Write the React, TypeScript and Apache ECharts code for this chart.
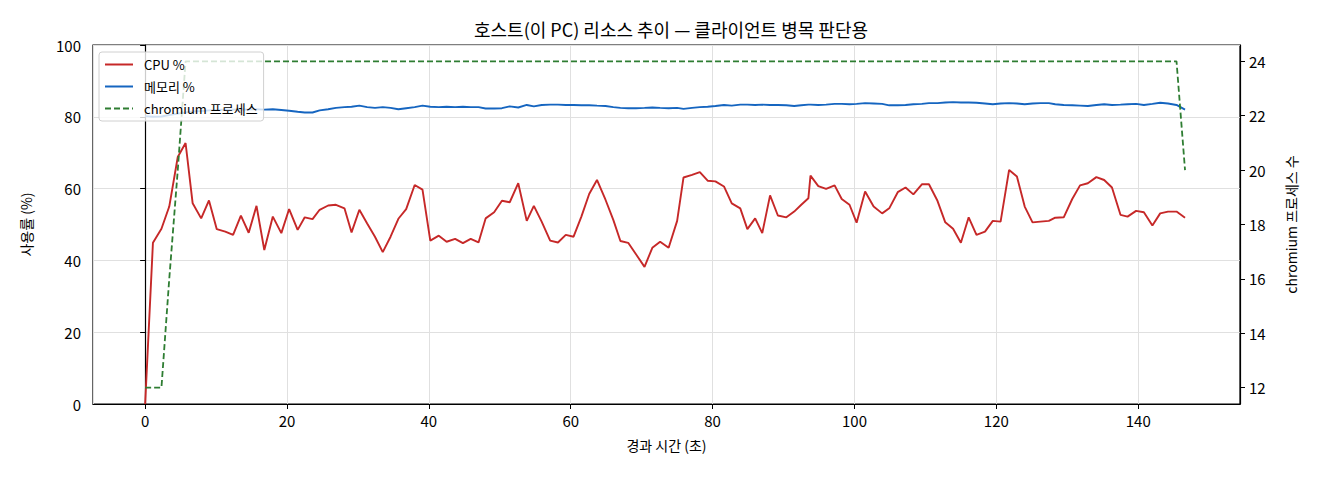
import { useEffect, useRef } from "react";
import * as echarts from "echarts";

// 경과 시간 (초) — 샘플 시각
const times = [
  0.0, 1.1, 2.3, 3.4, 4.6, 5.7, 6.7, 7.9, 9.0, 10.1,
  11.3, 12.4, 13.5, 14.6, 15.7, 16.8, 18.0, 19.2, 20.3, 21.5,
  22.5, 23.6, 24.6, 25.8, 26.9, 28.1, 29.1, 30.2, 31.3, 32.4,
  33.5, 34.6, 35.7, 36.8, 38.0, 39.1, 40.2, 41.4, 42.5, 43.7,
  44.8, 45.9, 47.0, 48.0, 49.2, 50.3, 51.4, 52.6, 53.8, 54.8,
  55.9, 57.1, 58.2, 59.3, 60.4, 61.5, 62.6, 63.7, 64.9, 66.0,
  67.0, 68.1, 69.2, 70.4, 71.5, 72.6, 73.8, 75.0, 75.9, 77.1,
  78.2, 79.3, 80.4, 81.6, 82.7, 83.9, 84.9, 86.0, 87.0, 88.1,
  89.2, 90.4, 91.5, 92.5, 93.5, 93.8, 94.9, 96.0, 97.2, 98.2,
  99.3, 100.3, 101.5, 102.7, 103.9, 104.9, 106.1, 107.2, 108.3, 109.5,
  110.5, 111.7, 112.8, 113.9, 115.0, 116.1, 117.2, 118.4, 119.5, 120.6,
  121.8, 122.9, 124.0, 125.1, 126.2, 127.4, 128.3, 129.5, 130.7, 131.8,
  132.9, 134.1, 135.2, 136.3, 137.5, 138.5, 139.7, 140.8, 142.0, 143.1,
  144.2, 145.4, 146.6,
];

// CPU 사용률 (%)
const cpuPct = [
  0, 44.9, 48.8, 55.0, 68.8, 72.7, 55.9, 51.7, 56.7, 48.7,
  48.0, 47.1, 52.5, 47.7, 55.2, 42.9, 52.2, 47.6, 54.3, 48.5,
  52.0, 51.5, 54.1, 55.3, 55.5, 54.5, 47.8, 54.1, 50.3, 46.6,
  42.3, 46.6, 51.6, 54.3, 61.0, 59.7, 45.5, 46.9, 45.2, 46.0,
  44.8, 46.0, 45.0, 51.7, 53.4, 56.6, 56.2, 61.5, 51.0, 55.2,
  50.8, 45.5, 45.0, 47.1, 46.6, 52.2, 58.5, 62.4, 56.9, 51.3,
  45.4, 44.9, 41.7, 38.2, 43.5, 45.2, 43.5, 51.0, 63.1, 63.8,
  64.6, 62.2, 62.0, 60.6, 55.9, 54.5, 48.7, 51.7, 47.6, 58.1,
  52.5, 52.0, 53.6, 55.5, 57.3, 63.6, 60.7, 59.9, 60.9, 57.1,
  55.5, 50.5, 59.2, 55.0, 53.1, 54.5, 59.0, 60.3, 58.4, 61.2,
  61.2, 56.6, 50.6, 48.8, 44.9, 52.0, 47.1, 48.0, 51.0, 50.8,
  65.2, 63.4, 55.0, 50.6, 50.8, 51.0, 51.9, 52.0, 57.1, 60.9,
  61.5, 63.2, 62.4, 60.3, 52.7, 52.2, 53.8, 53.4, 49.7, 53.1,
  53.6, 53.6, 51.9,
];

// 메모리 사용률 (%)
const memPct = [
  80.2, 80.0, 80.1, 80.5, 80.9, 81.2, 81.5, 81.6, 81.8, 81.9,
  82.0, 82.0, 82.1, 82.0, 82.1, 82.0, 82.1, 81.9, 81.7, 81.4,
  81.2, 81.2, 81.8, 82.1, 82.5, 82.7, 82.8, 83.1, 82.7, 82.5,
  82.7, 82.5, 82.1, 82.4, 82.7, 83.1, 82.8, 82.7, 82.8, 82.7,
  82.8, 82.7, 82.7, 82.3, 82.3, 82.4, 82.9, 82.6, 83.3, 82.9,
  83.3, 83.4, 83.4, 83.3, 83.3, 83.2, 83.2, 83.1, 83.0, 82.7,
  82.5, 82.4, 82.4, 82.5, 82.6, 82.5, 82.4, 82.5, 82.2, 82.5,
  82.7, 82.8, 83.0, 83.3, 83.1, 83.4, 83.4, 83.3, 83.4, 83.3,
  83.3, 83.2, 83.0, 83.2, 83.4, 83.4, 83.3, 83.4, 83.6, 83.6,
  83.5, 83.6, 83.8, 83.7, 83.6, 83.2, 83.2, 83.3, 83.5, 83.6,
  83.8, 83.8, 84.0, 84.1, 84.0, 84.0, 83.9, 83.7, 83.5, 83.7,
  83.8, 83.7, 83.5, 83.7, 83.8, 83.8, 83.5, 83.3, 83.2, 83.1,
  83.0, 83.3, 83.5, 83.3, 83.4, 83.5, 83.6, 83.3, 83.6, 83.9,
  83.7, 83.3, 82.0,
];

// chromium 프로세스 수 — 값이 바뀌는 시점만
const chromiumTimes = [0.0, 2.3, 3.4, 4.6, 5.7, 145.4, 146.6];
const chromiumCounts = [12, 12, 16, 20, 24, 24, 20];

const FONT = "'Noto Sans CJK KR', 'Noto Sans', sans-serif";

export default function App() {
  const chartRef = useRef<HTMLDivElement>(null);

  useEffect(() => {
    if (!chartRef.current) return;
    const chart = echarts.init(chartRef.current, undefined, { renderer: "svg" });
    chart.setOption({
      animation: false,
      textStyle: { fontFamily: FONT, color: "#000" },
      title: {
        text: "호스트(이 PC) 리소스 추이 — 클라이언트 병목 판단용",
        left: 666,
        top: 15,
        textAlign: "center",
        textStyle: { fontSize: 18, fontWeight: "normal", color: "#000", fontFamily: FONT },
      },
      grid: {
        left: 93,
        right: 80,
        top: 45,
        bottom: 76,
        show: true,
        borderColor: "#000",
        borderWidth: 1.2,
        backgroundColor: "transparent",
      },
      legend: {
        orient: "vertical",
        left: 99,
        top: 52,
        itemWidth: 28,
        itemHeight: 10,
        itemGap: 9,
        itemStyle: { opacity: 0 },
        backgroundColor: "rgba(255,255,255,0.8)",
        borderColor: "#d0d0d0",
        borderWidth: 1,
        borderRadius: 3,
        padding: [6, 6, 6, 5],
        textStyle: { fontSize: 13, color: "#000", fontFamily: FONT, padding: [0, 0, 0, 6] },
        data: ["CPU %", "메모리 %", "chromium 프로세스"],
      },
      xAxis: {
        type: "value",
        min: -7.35,
        max: 154.35,
        splitNumber: 8,
        minInterval: 20,
        maxInterval: 20,
        name: "경과 시간 (초)",
        nameLocation: "middle",
        nameGap: 34,
        nameTextStyle: { fontSize: 14, color: "#000", fontFamily: FONT },
        axisLine: { show: true, onZero: false, lineStyle: { color: "#000", width: 1.2 } },
        axisTick: { show: true, length: 5, lineStyle: { color: "#000" } },
        axisLabel: { fontSize: 15, color: "#000", margin: 9, showMinLabel: false, showMaxLabel: false },
        splitLine: { show: true, lineStyle: { color: "#e0e0e0", width: 1 } },
      },
      yAxis: [
        {
          type: "value",
          min: 0,
          max: 100,
          interval: 20,
          position: "left",
          name: "사용률 (%)",
          nameLocation: "middle",
          nameGap: 60,
          nameRotate: 90,
          nameTextStyle: { fontSize: 14, color: "#000", fontFamily: FONT },
          axisLine: { show: true, lineStyle: { color: "#000", width: 1.2 } },
          axisTick: { show: true, length: 5, lineStyle: { color: "#000" } },
          axisLabel: { fontSize: 15, color: "#000", margin: 12 },
          splitLine: { show: true, lineStyle: { color: "#e0e0e0", width: 1 } },
        },
        {
          type: "value",
          min: 11.4,
          max: 24.6,
          splitNumber: 7,
          minInterval: 2,
          maxInterval: 2,
          position: "right",
          name: "chromium 프로세스 수",
          nameLocation: "middle",
          nameGap: 44,
          nameRotate: 90,
          nameTextStyle: { fontSize: 14, color: "#000", fontFamily: FONT },
          axisLine: { show: true, lineStyle: { color: "#000", width: 1.2 } },
          axisTick: { show: true, length: 5, lineStyle: { color: "#000" } },
          axisLabel: { fontSize: 15, color: "#000", margin: 9, showMinLabel: false, showMaxLabel: false },
          splitLine: { show: false },
        },
      ],
      series: [
        {
          name: "CPU %",
          type: "line",
          symbol: "none",
          data: times.map((t, i) => [t, cpuPct[i]]),
          lineStyle: { color: "#c62828", width: 1.9 },
          itemStyle: { color: "#c62828" },
        },
        {
          name: "메모리 %",
          type: "line",
          symbol: "none",
          data: times.map((t, i) => [t, memPct[i]]),
          lineStyle: { color: "#1565c0", width: 1.9 },
          itemStyle: { color: "#1565c0" },
        },
        {
          name: "chromium 프로세스",
          type: "line",
          symbol: "none",
          yAxisIndex: 1,
          data: chromiumTimes.map((t, i) => [t, chromiumCounts[i]]),
          lineStyle: { color: "#2e7d32", width: 1.8, type: [6, 3] },
          itemStyle: { color: "#2e7d32" },
        },
      ],
    });
    return () => {
      chart.dispose();
    };
  }, []);

  return (
    <div
      ref={chartRef}
      style={{ position: "absolute", left: 0, top: 0, width: 1320, height: 480, background: "#fff" }}
    />
  );
}
